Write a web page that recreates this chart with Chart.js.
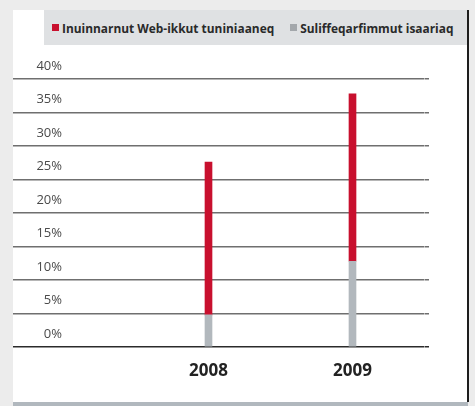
<!DOCTYPE html>
<html>
<head>
<meta charset="utf-8">
<script src="https://cdn.jsdelivr.net/npm/chart.js@4/dist/chart.umd.min.js"></script>
<style>
  html, body { margin: 0; padding: 0; }
  body {
    width: 475px; height: 406px; overflow: hidden; position: relative;
    background: #ececec; font-family: 'Open Sans', sans-serif;
  }
  .panel { position: absolute; left: 13px; top: 10px; width: 455px; height: 392px; background: #fff; }
  .edge  { position: absolute; left: 467px; top: 10px; width: 2px; height: 392px; background: #1d1d1d; }
  .foot  { position: absolute; left: 13px; top: 402px; width: 455px; height: 4px; background: #b1b8be; }
  .band  { position: absolute; left: 44px; top: 10px; width: 423px; height: 35px; background: #dfe1e3; }
  #legend {
    position: absolute; left: 52px; top: 10px; height: 35px;
    display: flex; align-items: center;
    font-size: 11.9px; font-weight: 700; color: #2a2a2a; white-space: nowrap;
  }
  #legend span.item { display: flex; align-items: center; margin-right: 16px; }
  #legend i { display: inline-block; width: 7px; height: 7px; margin-right: 3px; }
  canvas { position: absolute; left: 0; top: 0; }
</style>
</head>
<body>
<div class="panel"></div>
<div class="band"></div>
<div id="legend"></div>
<div class="edge"></div>
<div class="foot"></div>
<canvas id="chart" width="475" height="406"></canvas>

<script>
/* ── data ── */
const years    = ['2008', '2009'];
const business = [4.8, 12.8];   // Suliffeqarfimmut isaariaq
const webSales = [22.8, 25.0];  // Inuinnarnut Web-ikkut tuniniaaneq
const yTicks   = [0, 5, 10, 15, 20, 25, 30, 35, 40];

const RED  = '#c8102e';
const GREY = '#b2b8bd';

const gridColor = c => (c.tick && c.tick.value === 0) ? '#2b2b2b' : 'rgba(70,70,70,0.78)';

const chart = new Chart(document.getElementById('chart'), {
  type: 'bar',
  data: {
    labels: years,
    datasets: [
      { label: 'Suliffeqarfimmut isaariaq', data: business, backgroundColor: GREY, legendColor: '#a3a7ab' },
      { label: 'Inuinnarnut Web-ikkut tuniniaaneq', data: webSales, backgroundColor: RED, legendColor: RED }
    ]
  },
  options: {
    responsive: false,
    animation: false,
    layout: { padding: { left: 13, right: 46, top: 79, bottom: 0 } },
    datasets: { bar: { barThickness: 7, borderWidth: 0 } },
    plugins: { legend: { display: false }, tooltip: { enabled: false } },
    scales: {
      x: {
        stacked: true,
        grid: { display: false, drawTicks: false },
        border: { display: false },
        ticks: { color: '#222', padding: 14, font: { family: "'Open Sans'", size: 17, weight: 'bold' } },
        afterFit: s => { s.height = 59; }
      },
      y: {
        stacked: true,
        min: 0, max: 40,
        z: 1,
        afterBuildTicks: s => { s.ticks = yTicks.map(v => ({ value: v })); },
        grid: { color: gridColor, lineWidth: 1.5, drawTicks: true, tickLength: 123.5 },
        border: { display: false },
        ticks: {
          color: '#4a4a4a', padding: -49, labelOffset: -13,
          font: { family: "'Open Sans'", size: 13 },
          callback: v => v + '%'
        },
        afterFit: s => { s.width = 123.5; }
      },
      y2: {
        position: 'right',
        min: 0, max: 40,
        z: 1,
        afterBuildTicks: s => { s.ticks = yTicks.map(v => ({ value: v })); },
        grid: { color: gridColor, lineWidth: 1.5, drawOnChartArea: false, tickLength: 4.5 },
        border: { display: false },
        ticks: { display: false },
        afterFit: s => { s.width = 4.5; }
      }
    }
  }
});

/* ── html legend (red first, as in the print) ── */
const legendEl = document.getElementById('legend');
[...chart.data.datasets].reverse().forEach(ds => {
  const item = document.createElement('span');
  item.className = 'item';
  const box = document.createElement('i');
  box.style.background = ds.legendColor;
  item.appendChild(box);
  item.appendChild(document.createTextNode(ds.label));
  legendEl.appendChild(item);
});
</script>
</body>
</html>
